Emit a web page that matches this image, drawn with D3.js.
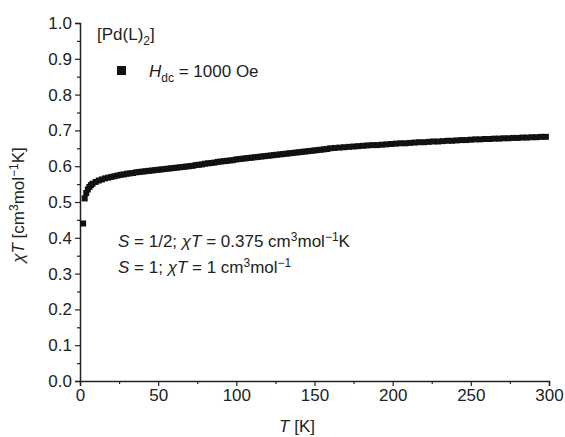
<!DOCTYPE html>
<html><head><meta charset="utf-8">
<script src="https://cdn.jsdelivr.net/npm/d3@7"></script>
<style>body{margin:0;background:#fff}text{font-family:"Liberation Sans",Arial,sans-serif;fill:#222}</style>
</head><body><svg id="c" width="565" height="437"></svg>
<script>
var temps = [2,3,4,5,6,7,8,10,12,14,16,18,20,22,24,26,28,30,32,34,36,38,40,42,44,46,48,50,52,54,56,58,60,62,64,66,68,70,72,74,76,78,80,82,84,86,88,90,92,94,96,98,100,102,104,106,108,110,112,114,116,118,120,122,124,126,128,130,132,134,136,138,140,142,144,146,148,150,152,154,156,158,160,
163,166,169,172,175,178,181,184,187,190,193,196,199,202,205,208,211,214,217,220,223,226,229,232,235,238,241,244,247,250,253,256,259,262,265,268,271,274,277,280,283,286,289,292,295,298];
var chiT = [0.44,0.51,0.525,0.535,0.542,0.547,0.551,0.556,0.560,0.563,0.566,0.568,0.570,0.572,0.574,0.576,0.577,0.579,0.580,0.581,0.583,0.584,0.585,0.586,0.587,0.588,0.589,0.590,0.591,0.592,0.593,0.594,0.595,0.596,0.597,0.598,0.599,0.600,0.601,0.603,0.604,0.605,0.607,0.608,0.609,0.610,0.612,0.613,0.614,0.615,0.616,0.617,0.619,0.620,0.621,0.622,0.623,0.624,0.625,0.626,0.627,0.628,0.629,0.630,0.631,0.632,0.633,0.634,0.635,0.636,0.637,0.638,0.639,0.640,0.641,0.642,0.643,0.644,0.645,0.646,0.647,0.648,0.650,
0.651,0.652,0.653,0.654,0.655,0.656,0.657,0.658,0.659,0.659,0.660,0.661,0.662,0.663,0.664,0.664,0.665,0.666,0.667,0.667,0.668,0.669,0.669,0.670,0.671,0.671,0.672,0.673,0.673,0.674,0.675,0.675,0.676,0.676,0.677,0.677,0.678,0.678,0.679,0.679,0.680,0.680,0.681,0.681,0.682,0.682];
var xTicks = [0,50,100,150,200,250,300];
var yTicks = [0,0.1,0.2,0.3,0.4,0.5,0.6,0.7,0.8,0.9,1.0];

var svg = d3.select("#c");
var x = d3.scaleLinear().domain([0,300]).range([80,549]);
var y = d3.scaleLinear().domain([0,1]).range([381,23]);
var fs = "17px", sub = "12px";

var xa = svg.append("g").attr("transform","translate(0,381)")
  .call(d3.axisBottom(x).tickValues(d3.range(0,301,25)).tickSize(5).tickFormat(function(d){return xTicks.indexOf(d)>=0?d:"";}));
var ya = svg.append("g").attr("transform","translate(80,0)")
  .call(d3.axisLeft(y).tickValues(d3.range(0,21).map(function(i){return i/20;})).tickSize(5)
  .tickFormat(function(d){var v=Math.round(d*10)/10;return Math.abs(v-d)<1e-9?d3.format(".1f")(d):"";}));
[xa,ya].forEach(function(a){
  a.selectAll("path").attr("stroke","#222").attr("stroke-width",1.5);
  a.selectAll("line").attr("stroke","#222").attr("stroke-width",1.2);
  a.selectAll("text").style("font-size",fs).style("font-family","Liberation Sans, Arial").attr("fill","#222");
});
xa.selectAll(".tick").filter(function(d){return xTicks.indexOf(d)<0;}).select("line").attr("y2",3);
ya.selectAll(".tick").filter(function(d){return Math.abs(Math.round(d*10)/10-d)>1e-9;}).select("line").attr("x2",-3);

svg.append("g").selectAll("rect").data(temps).enter().append("rect")
  .attr("x",function(d){return x(d)-3;})
  .attr("y",function(d,i){return y(chiT[i])-3;})
  .attr("width",6).attr("height",6).attr("fill","#111");

// legend
var t1 = svg.append("text").attr("x",97).attr("y",40).style("font-size",fs);
t1.append("tspan").text("[Pd(L)");
t1.append("tspan").attr("dy",5).style("font-size",sub).text("2");
t1.append("tspan").attr("dy",-5).text("]");
svg.append("rect").attr("x",117).attr("y",66).attr("width",9).attr("height",9).attr("fill","#111");
var t2 = svg.append("text").attr("x",149).attr("y",77).style("font-size",fs);
t2.append("tspan").style("font-style","italic").text("H");
t2.append("tspan").attr("dy",5).style("font-size",sub).text("dc");
t2.append("tspan").attr("dy",-5).text(" = 1000 Oe");

var a1 = svg.append("text").attr("x",118).attr("y",247).style("font-size",fs);
a1.append("tspan").style("font-style","italic").text("S");
a1.append("tspan").text(" = 1/2; ");
a1.append("tspan").style("font-style","italic").text("χT");
a1.append("tspan").text(" = 0.375 cm");
a1.append("tspan").attr("dy",-6).style("font-size",sub).text("3");
a1.append("tspan").attr("dy",6).text("mol");
a1.append("tspan").attr("dy",-6).style("font-size",sub).text("−1");
a1.append("tspan").attr("dy",6).text("K");
var a2 = svg.append("text").attr("x",118).attr("y",273).style("font-size",fs);
a2.append("tspan").style("font-style","italic").text("S");
a2.append("tspan").text(" = 1; ");
a2.append("tspan").style("font-style","italic").text("χT");
a2.append("tspan").text(" = 1 cm");
a2.append("tspan").attr("dy",-6).style("font-size",sub).text("3");
a2.append("tspan").attr("dy",6).text("mol");
a2.append("tspan").attr("dy",-6).style("font-size",sub).text("−1");

// axis titles
var xl = svg.append("text").attr("x",297).attr("y",432).attr("text-anchor","middle").style("font-size",fs);
xl.append("tspan").style("font-style","italic").text("T");
xl.append("tspan").text("  [K]");
var yl = svg.append("text").attr("transform","translate(24,205) rotate(-90)").attr("text-anchor","middle").style("font-size",fs);
yl.append("tspan").style("font-style","italic").text("χT");
yl.append("tspan").text("  [cm");
yl.append("tspan").attr("dy",-6).style("font-size",sub).text("3");
yl.append("tspan").attr("dy",6).text("mol");
yl.append("tspan").attr("dy",-6).style("font-size",sub).text("−1");
yl.append("tspan").attr("dy",6).text("K]");
</script></body></html>
